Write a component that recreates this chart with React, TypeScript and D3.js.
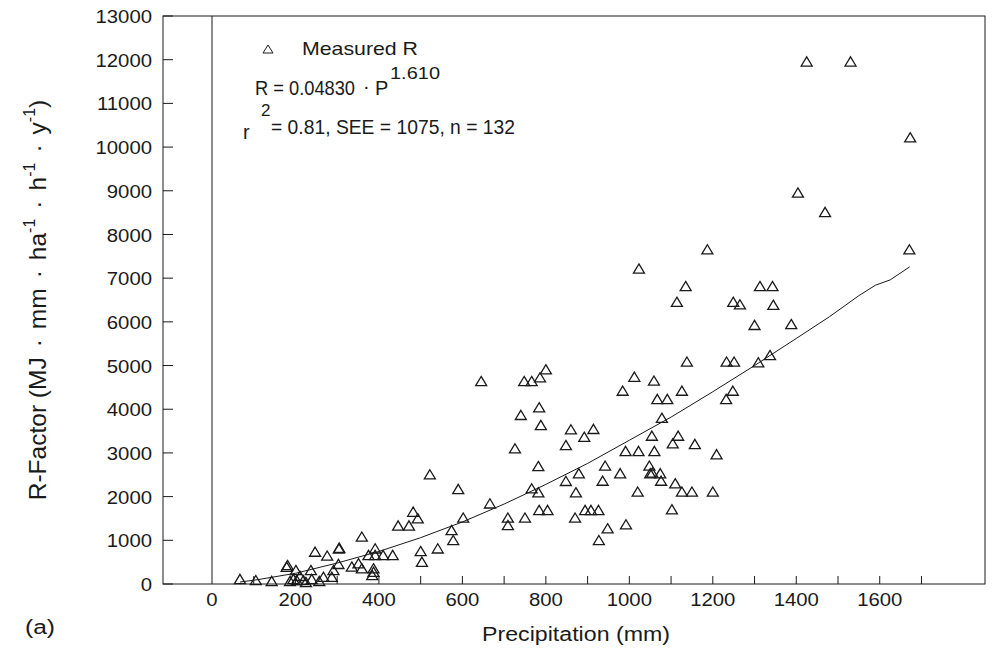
import React from "react";
import * as d3 from "d3";

// Measured data (Precipitation mm, R-factor)
const precipitation = [1425,1530,1673,1404,1469,1187,1671,1023,1135,1313,1343,1114,1249,1265,1345,1300,1388,1337,1309,1138,1233,1251,1012,1059,984,1126,1248,1232,1067,1091,1078,860,914,892,848,1054,1117,1104,1157,991,1022,1060,1209,942,1048,879,978,1050,1055,1074,848,936,1076,1110,872,1020,1126,1150,1200,894,908,926,1102,870,948,992,927,645,748,766,786,800,784,740,788,726,782,522,590,766,782,666,602,709,709,750,784,804,574,578,482,493,446,472,500,503,541,359,247,276,304,305,391,375,391,410,433,303,335,351,359,387,387,384,179,181,201,237,195,203,219,239,257,267,287,291,67,105,143,211,187,225];
const rFactor = [11960,11960,10225,8960,8515,7660,7660,7220,6820,6820,6820,6460,6460,6400,6390,5930,5950,5240,5075,5090,5090,5090,4745,4655,4425,4425,4425,4235,4235,4235,3805,3540,3550,3370,3180,3395,3395,3220,3205,3045,3045,3045,2970,2710,2710,2535,2535,2535,2550,2535,2360,2365,2365,2305,2100,2115,2115,2115,2115,1695,1695,1695,1710,1520,1275,1365,1005,4645,4645,4645,4730,4915,4045,3870,3640,3105,2700,2510,2175,2190,2100,1845,1520,1520,1350,1520,1695,1695,1235,1005,1655,1505,1340,1340,755,510,815,1085,740,650,815,830,815,665,665,665,665,460,400,475,360,360,280,205,395,435,320,320,115,90,90,115,70,165,165,320,115,90,70,185,70,45];

// Fitted curve as drawn
const fitP = [67,110,200,300,400,500,600,700,800,900,1000,1100,1200,1300,1400,1480,1550,1590,1625,1672];
const fitR = [45,100,245,480,745,1060,1420,1830,2280,2760,3290,3820,4400,5000,5620,6120,6600,6840,6960,7260];

const xTickValues = [100,200,300,400,500,600,700,800,900,1000,1100,1200,1300,1400,1500,1600,1700];
const xLabelValues = [0,200,400,600,800,1000,1200,1400,1600];
const yTickValues = [0,1000,2000,3000,4000,5000,6000,7000,8000,9000,10000,11000,12000,13000];

const FONT = "'Liberation Sans', Arial, Helvetica, sans-serif";
const INK = "#1a1a1a";

export default function App() {
  const left = 163, right = 985, top = 16, bottom = 584;
  const x = d3.scaleLinear().domain([0, 1500]).range([212, 838]);
  const y = d3.scaleLinear().domain([0, 13000]).range([bottom, top]);

  const line = d3
    .line<number>()
    .x((d) => x(fitP[d]))
    .y((d) => y(fitR[d]));

  const tri = (cx: number, cy: number, w = 5.5, h = 4.6) =>
    `M${cx},${cy - h} L${cx + w},${cy + h} L${cx - w},${cy + h} Z`;

  const yTitleX = 46;
  const yTitleY = 300;
  const sep = 10;

  return (
    <svg
      width={994}
      height={651}
      style={{ position: "absolute", left: 0, top: 0, background: "#fff" }}
      fontFamily={FONT}
    >
      <rect x={0} y={0} width={994} height={651} fill="#fff" />
      {/* frame */}
      <rect x={left} y={top} width={right - left} height={bottom - top} fill="none" stroke={INK} strokeWidth={1} />
      {/* zero line */}
      <line x1={x(0)} x2={x(0)} y1={top} y2={bottom} stroke={INK} strokeWidth={1} />

      {/* y ticks */}
      {yTickValues.map((v) => (
        <g key={"yt" + v}>
          <line x1={left} x2={left + 10} y1={y(v)} y2={y(v)} stroke={INK} strokeWidth={1} />
          <text
            transform={`translate(152,${y(v) + 1}) scale(1.13,1)`}
            textAnchor="end"
            dominantBaseline="central"
            fontSize={18}
            fill={INK}
          >
            {v}
          </text>
        </g>
      ))}

      {/* x ticks */}
      {xTickValues.map((v) => (
        <line key={"xt" + v} x1={x(v)} x2={x(v)} y1={bottom} y2={bottom - 8} stroke={INK} strokeWidth={1} />
      ))}
      {xLabelValues.map((v) => (
        <text
          key={"xl" + v}
          transform={`translate(${x(v)},600) scale(1.13,1)`}
          textAnchor="middle"
          dominantBaseline="central"
          fontSize={18}
          fill={INK}
        >
          {v}
        </text>
      ))}

      {/* fitted line */}
      <path d={line(d3.range(fitP.length)) || ""} fill="none" stroke={INK} strokeWidth={1} />

      {/* points */}
      {precipitation.map((p, i) => (
        <path key={"pt" + i} d={tri(x(p), y(rFactor[i]))} fill="none" stroke={INK} strokeWidth={1.3} />
      ))}

      {/* legend */}
      <path d={tri(268, 49, 5, 4)} fill="none" stroke={INK} strokeWidth={1} />
      <text x={302} y={55} fontSize={18.5} textLength={116} lengthAdjust="spacingAndGlyphs" fill={INK}>
        Measured R
      </text>
      <text x={255} y={95} fontSize={20} textLength={100} lengthAdjust="spacingAndGlyphs" fill={INK}>
        R = 0.04830
      </text>
      <text x={363} y={93} fontSize={20} fill={INK}>·</text>
      <text x={375} y={95} fontSize={20} fill={INK}>P</text>
      <text x={390} y={79} fontSize={17} textLength={50} lengthAdjust="spacingAndGlyphs" fill={INK}>
        1.610
      </text>
      <text x={243} y={139} fontSize={20} fill={INK}>r</text>
      <text x={261} y={116} fontSize={17} fill={INK}>2</text>
      <text x={271} y={134} fontSize={19.5} textLength={244} lengthAdjust="spacingAndGlyphs" fill={INK}>
        = 0.81, SEE = 1075, n = 132
      </text>

      {/* axis titles */}
      <text x={576} y={641} fontSize={20} textAnchor="middle" textLength={188} lengthAdjust="spacingAndGlyphs" fill={INK}>
        Precipitation (mm)
      </text>
      <text x={25} y={634} fontSize={20} textLength={30} lengthAdjust="spacingAndGlyphs" fill={INK}>
        (a)
      </text>
      <text
        transform={`translate(${yTitleX},${yTitleY}) rotate(-90)`}
        textAnchor="middle"
        fontSize={24.5}
        fill={INK}
      >
        <tspan>R-Factor (MJ</tspan>
        <tspan dx={sep}>·</tspan>
        <tspan dx={sep}>mm</tspan>
        <tspan dx={sep}>·</tspan>
        <tspan dx={sep}>ha</tspan>
        <tspan fontSize={16} dy={-11}>-1</tspan>
        <tspan dy={11} dx={sep}>·</tspan>
        <tspan dx={sep}>h</tspan>
        <tspan fontSize={16} dy={-11}>-1</tspan>
        <tspan dy={11} dx={sep}>·</tspan>
        <tspan dx={sep}>y</tspan>
        <tspan fontSize={16} dy={-11}>-1</tspan>
        <tspan dy={11}>)</tspan>
      </text>
    </svg>
  );
}
